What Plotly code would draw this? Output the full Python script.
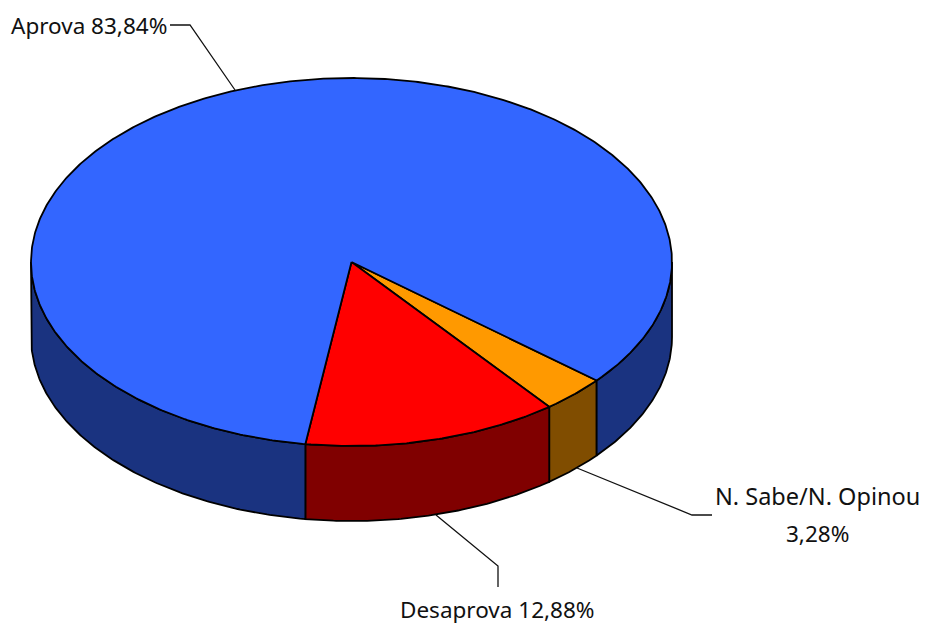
import numpy as np
import plotly.graph_objects as go

# Data
categories = ["N. Sabe/N. Opinou", "Desaprova", "Aprova"]
shares = [3.28, 12.88, 83.84]
value_labels = ["3,28%", "12,88%", "83,84%"]
top_colors = ["#FF9900", "#FF0000", "#3366FF"]
side_colors = ["#804D00", "#800000", "#1A3380"]

# Pie projection (pixel space of the 925x625 canvas)
CX, CY, RX, RY, DEPTH = 351.5, 262.0, 320.5, 184.0, 75.0
START_DEG = 40.1
FONT = dict(family="Noto Sans", size=22.5, color="#111111")
FONT_WIDE = dict(family="Noto Sans", size=23.5, color="#111111")
EDGE = dict(color="#000000", width=1.8)


def ex(a):
    return CX + RX * np.cos(np.radians(a))


def ey(a):
    return CY + RY * np.sin(np.radians(a))


def arc(a0, a1):
    n = max(2, int(abs(a1 - a0) * 2) + 1)
    return np.linspace(a0, a1, n)


fig = go.Figure()

# Compute slice spans from the shares
spans = []
a = START_DEG
for s in shares:
    spans.append((a, a + s * 3.6))
    a += s * 3.6

# Side walls (only the front half, 0-180 deg on screen, is visible)
for (a0, a1), col in zip(spans, side_colors):
    for off in (0, 360):
        lo, hi = max(a0 - off, 0), min(a1 - off, 180)
        if hi <= lo:
            continue
        t = arc(lo, hi)
        xs = np.concatenate([ex(t), ex(t[::-1]), ex(t[:1])])
        ys = np.concatenate([ey(t), ey(t[::-1]) + DEPTH, ey(t[:1])])
        fig.add_trace(go.Scatter(x=xs, y=ys, mode="lines", fill="toself",
                                 fillcolor=col, line=EDGE, hoverinfo="skip"))

# Top faces
for (a0, a1), col, name in zip(spans, top_colors, categories):
    t = arc(a0, a1)
    xs = np.concatenate([[CX], ex(t), [CX]])
    ys = np.concatenate([[CY], ey(t), [CY]])
    fig.add_trace(go.Scatter(x=xs, y=ys, mode="lines", fill="toself", name=name,
                             fillcolor=col, line=EDGE, hoverinfo="skip"))

# Leader lines
leaders = [
    ([577, 692, 712], [468, 515, 515]),
    ([436, 498, 498], [515, 566, 587]),
    ([170, 190, 235], [25, 25, 90]),
]
for lx, ly in leaders:
    fig.add_trace(go.Scatter(x=lx, y=ly, mode="lines", hoverinfo="skip",
                             line=dict(color="#111111", width=1.3)))

# Labels
texts = [
    (817, 496, categories[0], FONT_WIDE),
    (817, 533, value_labels[0], FONT),
    (497, 609, f"{categories[1]} {value_labels[1]}", FONT),
    (89, 25, f"{categories[2]} {value_labels[2]}", FONT),
]
for x, y, txt, fnt in texts:
    fig.add_annotation(x=x, y=y, text=txt, showarrow=False, xref="x", yref="y",
                       xanchor="center", yanchor="middle", font=fnt, align="center")

fig.update_layout(
    width=925, height=625, autosize=False, showlegend=False,
    margin=dict(l=0, r=0, t=0, b=0),
    paper_bgcolor="#FFFFFF", plot_bgcolor="#FFFFFF",
    xaxis=dict(range=[0, 925], visible=False, fixedrange=True),
    yaxis=dict(range=[625, 0], visible=False, fixedrange=True),
)
fig.write_html("out.html", config=dict(displayModeBar=False),
               post_script="document.body.style.margin='0';document.body.style.overflow='hidden';")
